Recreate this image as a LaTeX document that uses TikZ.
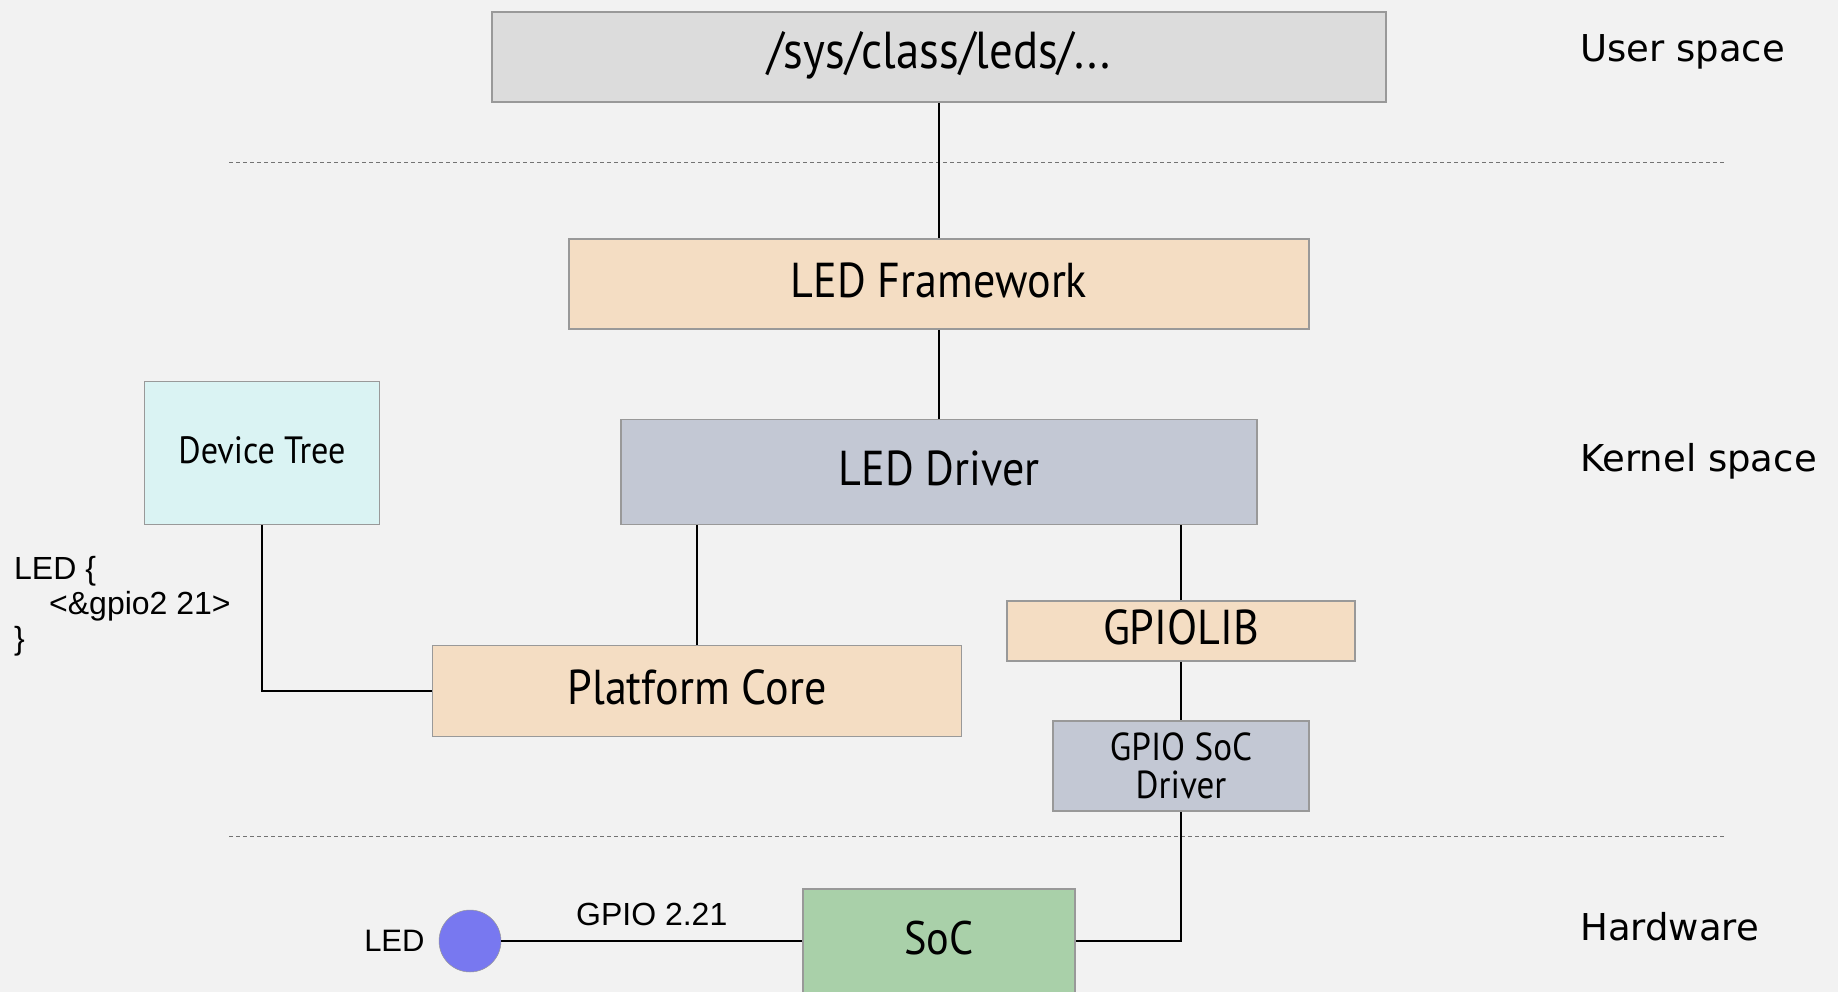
\documentclass[tikz,border=0pt]{standalone}
\usepackage{fontspec}
\setmainfont{Liberation Sans}
\newfontfamily\boxfont[FakeStretch=0.9]{PT Sans}
\newfontfamily\layerfont{DejaVu Sans}
\usetikzlibrary{positioning}

\definecolor{bgcol}{HTML}{F2F2F2}
\definecolor{sysfscol}{HTML}{DCDCDC}
\definecolor{peachcol}{HTML}{F4DDC3}
\definecolor{drvcol}{HTML}{C3C8D4}
\definecolor{dtcol}{HTML}{DAF3F3}
\definecolor{soccol}{HTML}{A9D0A9}
\definecolor{ledcol}{HTML}{7878F0}
\definecolor{edgecol}{HTML}{999999}

\begin{document}
\begin{tikzpicture}[x=1pt, y=-1pt,
    block/.style={rectangle, draw=edgecol, line width=1.5pt, inner sep=0pt, text height=37pt, text depth=10pt, font=\boxfont\fontsize{49}{55}\selectfont},
    layer/.style={anchor=base west, inner sep=0pt, font=\layerfont\fontsize{37}{44}\selectfont},
    wire/.style={line width=1.5pt, black},
    sep/.style={line width=1pt, draw=black!55, dash pattern=on 4pt off 3pt}]

    \fill[bgcol] (0,0) rectangle (1838,992);
    \clip (0,0) rectangle (1838,992);

    % user space
    \node[block, fill=sysfscol, minimum width=894pt, minimum height=90pt, text depth=14pt, font=\boxfont\fontsize{52}{58}\selectfont] (sysfs) at (939,57) {/sys/class/leds/...};
    \node[layer] (user) at (1580,62) {User space};
    \draw[sep] (229,163) -- (1725,163);

    % kernel space
    \node[block, fill=peachcol, minimum width=740pt, minimum height=90pt] (framework) at (939,284) {LED Framework};
    \node[block, fill=drvcol, minimum width=636pt, minimum height=105pt] (driver) at (939,472) {LED Driver};
    \node[block, fill=dtcol, minimum width=235pt, minimum height=143pt, text depth=17pt, font=\boxfont\fontsize{38}{44}\selectfont] (devtree) at (262,453) {Device Tree};
    \node[block, fill=peachcol, minimum width=348pt, minimum height=60pt] (gpiolib) at (1181,631) {GPIOLIB};
    \node[block, fill=peachcol, minimum width=529pt, minimum height=91pt] (platform) at (697,691) {Platform Core};
    \node[block, fill=drvcol, minimum width=256pt, minimum height=90pt, text height=, text depth=, align=center, font=\boxfont\fontsize{39}{38}\selectfont] (socdrv) at (1181,766) {GPIO SoC\\Driver};
    \node[layer] (kernel) at (1580,471) {Kernel space};
    \node[anchor=north west, inner sep=0pt, align=left, font=\fontsize{32}{35}\selectfont] (dtsrc) at (14,556) {LED \{\\\hspace*{35pt}<\&gpio2 21>\\\}};
    \draw[sep] (229,836) -- (1725,836);

    % hardware
    \node[block, fill=soccol, minimum width=272pt, minimum height=104pt, font=\boxfont\fontsize{47}{52}\selectfont] (soc) at (939,941) {SoC};
    \node[circle, fill=ledcol, draw=edgecol, line width=0.5pt, minimum size=62pt, inner sep=0pt] (led) at (470,941) {};
    \node[left=14pt of led, inner sep=0pt, font=\fontsize{31}{36}\selectfont] (ledlabel) {LED};
    \node[layer] (hw) at (1580,940) {Hardware};

    \draw[wire] (sysfs) -- (framework);
    \draw[wire] (framework) -- (driver);
    \draw[wire] (platform.north) -- (platform.north |- driver.south);
    \draw[wire] (gpiolib.north) -- (gpiolib.north |- driver.south);
    \draw[wire] (gpiolib) -- (socdrv);
    \draw[wire] (devtree.south) |- (platform.west);
    \draw[wire] (socdrv.south) |- (soc.east |- led);
    \draw[wire] (led) -- node[above=14pt, inner sep=0pt, font=\fontsize{32}{36}\selectfont] {GPIO 2.21} (soc.west |- led);
\end{tikzpicture}
\end{document}
